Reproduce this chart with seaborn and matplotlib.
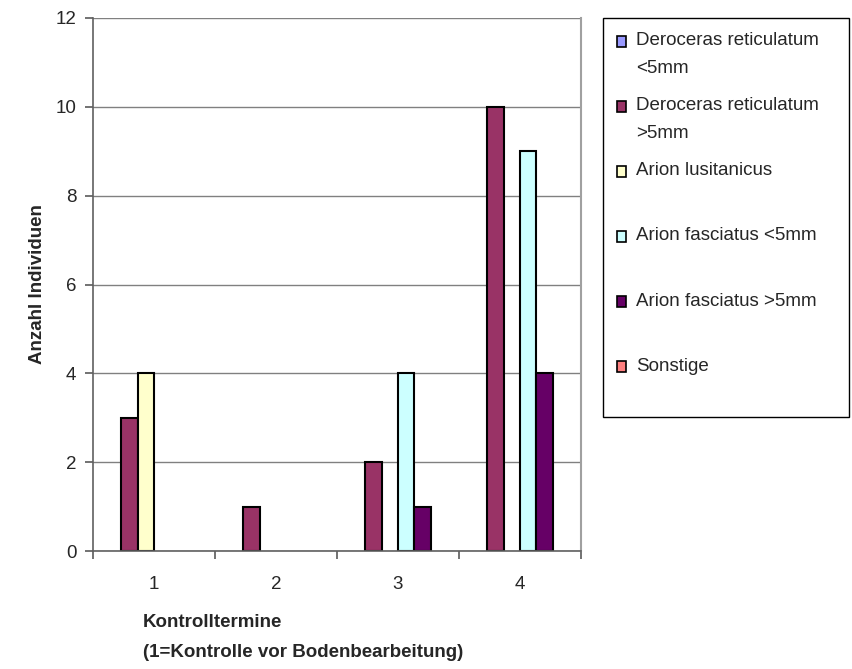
import pandas as pd
import matplotlib
matplotlib.use("Agg")
import matplotlib.pyplot as plt
import seaborn as sns
from matplotlib.legend_handler import HandlerPatch
from matplotlib.patches import Rectangle

# Daten
termine = ["1", "2", "3", "4"]
arten = ["Deroceras reticulatum <5mm", "Deroceras reticulatum >5mm", "Arion lusitanicus",
         "Arion fasciatus <5mm", "Arion fasciatus >5mm", "Sonstige"]
legenden_text = ["Deroceras reticulatum\n<5mm", "Deroceras reticulatum\n>5mm", "Arion lusitanicus\n ",
                 "Arion fasciatus <5mm\n ", "Arion fasciatus >5mm\n ", "Sonstige\n "]
dr_klein = [0, 0, 0, 0]
dr_gross = [3, 1, 2, 10]
arion_lus = [4, 0, 0, 0]
af_klein = [0, 0, 4, 9]
af_gross = [0, 0, 1, 4]
sonstige = [0, 0, 0, 0]
farben = ["#9999FF", "#993366", "#FFFFCC", "#CCFFFF", "#660066", "#FF8080"]

werte = [dr_klein, dr_gross, arion_lus, af_klein, af_gross, sonstige]
df = pd.DataFrame([(t, a, w[i]) for a, w in zip(arten, werte) for i, t in enumerate(termine)],
                  columns=["Termin", "Art", "Anzahl"])

sns.set_theme(style="white")
plt.rcParams["font.family"] = ["Liberation Sans", "DejaVu Sans"]
FS = 13.5

fig = plt.figure(figsize=(8.53, 6.69), dpi=100)
ax = fig.add_axes([93 / 853, 118 / 669, 488 / 853, 533 / 669])

sns.barplot(data=df, x="Termin", y="Anzahl", hue="Art", hue_order=arten, order=termine,
            palette=farben, saturation=1, width=0.81, gap=0, edgecolor="black",
            linewidth=1.5, legend=True, ax=ax)

# Balken mit Wert 0 ohne Rand
for p in ax.patches:
    if p.get_height() == 0:
        p.set_linewidth(0)

ax.set_ylim(0, 12)
ax.set_xlim(-0.5, 3.5)
ax.set_yticks(range(0, 13, 2))
ax.yaxis.grid(True, color="#808080", linewidth=1)
ax.set_axisbelow(True)

ax.set_xticks([-0.5, 0.5, 1.5, 2.5, 3.5])
ax.set_xticklabels([])
ax.set_xticks(range(4), minor=True)
ax.set_xticklabels(termine, minor=True)
ax.tick_params(axis="x", which="major", direction="out", length=6, color="#606060", bottom=True)
ax.tick_params(axis="x", which="minor", length=0, labelsize=FS, pad=18, bottom=True)
ax.tick_params(axis="y", direction="out", length=6, color="#606060", labelsize=FS, pad=6, left=True)

for s in ["left", "bottom"]:
    ax.spines[s].set_color("#606060")
    ax.spines[s].set_linewidth(1.2)
ax.spines["right"].set_color("#A0A0A0")
ax.spines["right"].set_linewidth(1.5)
ax.spines["top"].set_visible(False)

ax.set_ylabel("Anzahl Individuen", fontsize=FS, fontweight="bold")
ax.yaxis.set_label_coords(-0.097, 0.5)
ax.set_xlabel("Kontrolltermine\n(1=Kontrolle vor Bodenbearbeitung)", fontsize=FS,
              fontweight="bold", ha="left", va="top", linespacing=2.0)
ax.xaxis.set_label_coords(50 / 488, -63 / 533)

# Legende: Kästchen an der ersten Textzeile
versatz = 9.5


def kaestchen(legend, orig_handle, xdescent, ydescent, width, height, fontsize):
    return Rectangle((-xdescent, -ydescent + versatz), width, height)


handles, _ = ax.get_legend_handles_labels()
leg = ax.legend(handles, legenden_text, loc="upper left",
                bbox_to_anchor=(603 / 853, 251 / 669, 246 / 853, 400 / 669),
                bbox_transform=fig.transFigure, mode="expand", borderaxespad=0,
                fontsize=FS, frameon=True, fancybox=False, framealpha=1,
                edgecolor="black", handlelength=0.5, handleheight=0.5,
                handletextpad=0.5, borderpad=0.75, labelspacing=1.07,
                handler_map={h: HandlerPatch(patch_func=kaestchen) for h in handles})
leg.get_frame().set_linewidth(1.0)
for t in leg.get_texts():
    t.set_linespacing(1.85)
for h in leg.legend_handles:
    h.set_edgecolor("black")
    h.set_linewidth(1.2)

fig.savefig("out.png", dpi=100)
